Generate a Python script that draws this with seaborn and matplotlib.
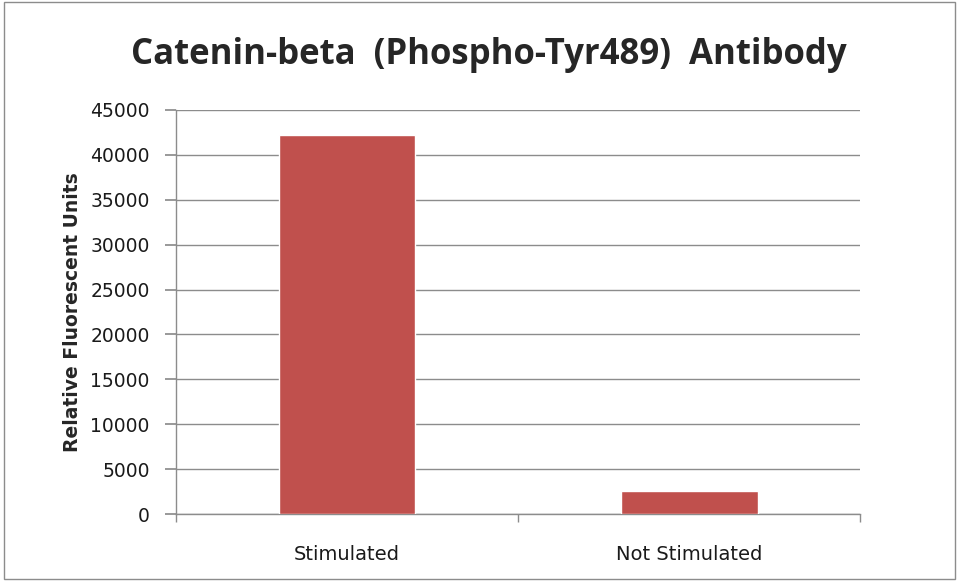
import matplotlib
matplotlib.use("Agg")
import matplotlib.pyplot as plt
from matplotlib.patches import Rectangle
import pandas as pd
import seaborn as sns

categories = ["Stimulated", "Not Stimulated"]
values = [42200, 2550]
y_ticks = list(range(0, 45001, 5000))

sns.set_theme(style="white")
plt.rcParams["font.family"] = ["DejaVu Sans"]

df = pd.DataFrame({"condition": categories, "rfu": values})

fig = plt.figure(figsize=(9.59, 5.81), dpi=100)
ax = fig.add_axes([0.1835, 0.1153, 0.7135, 0.6954])

sns.barplot(data=df, x="condition", y="rfu", color="#C0504D", width=0.4,
            saturation=1, ax=ax, zorder=3)

ax.set_xlim(-0.5, 1.5)
ax.set_ylim(0, 45000)
ax.set_yticks(y_ticks)
ax.set_yticklabels([str(t) for t in y_ticks], fontsize=13.5, color="#1a1a1a")
ax.yaxis.grid(True, color="#8C8C8C", linewidth=1)
ax.set_axisbelow(True)

ax.set_xticks([0, 1])
ax.set_xticklabels(categories, fontsize=14, color="#1a1a1a")
ax.set_xticks([-0.5, 0.5, 1.5], minor=True)
ax.tick_params(axis="x", which="major", length=0, pad=22)
ax.tick_params(axis="x", which="minor", length=6, color="#8C8C8C", direction="out", bottom=True)
ax.tick_params(axis="y", length=8, color="#8C8C8C", direction="out", left=True, pad=11)

for side in ["top", "right"]:
    ax.spines[side].set_visible(False)
for side in ["left", "bottom"]:
    ax.spines[side].set_color("#8C8C8C")
    ax.spines[side].set_linewidth(1)

ax.set_xlabel("")
ax.set_ylabel("Relative Fluorescent Units", fontsize=13.5, fontweight="bold", labelpad=6)

fig.text(0.51, 0.905, "Catenin-beta  (Phospho-Tyr489)  Antibody", ha="center", va="center",
         fontsize=25, fontweight="bold", family=["Open Sans", "DejaVu Sans"])

fig.patches.append(Rectangle((0.004, 0.003), 0.992, 0.993, transform=fig.transFigure,
                             fill=False, edgecolor="#8C8C8C", linewidth=1))

fig.savefig("out.png", dpi=100)
